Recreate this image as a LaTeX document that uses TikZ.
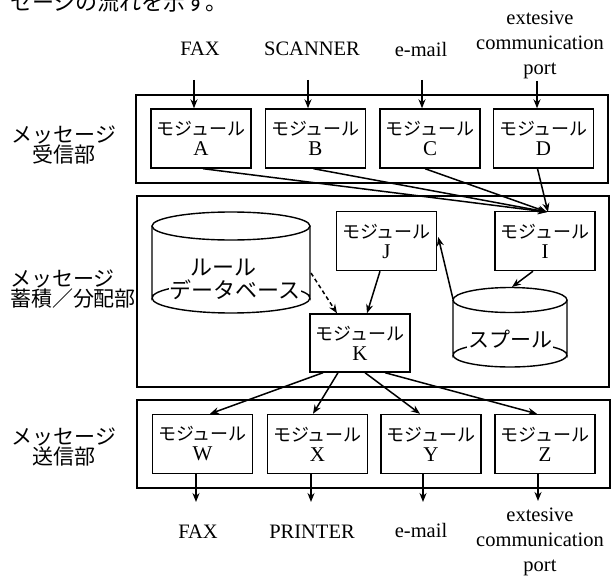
\documentclass[tikz,border=0pt]{standalone}
\usepackage{fontspec}
\setmainfont{Liberation Serif}
\newfontfamily\jp{Noto Sans CJK JP}
\usetikzlibrary{arrows.meta}
\begin{document}
\begin{tikzpicture}[x=1pt,y=-1pt,
  frame/.style={draw,line width=1.6pt},
  modbox/.style={draw,line width=1.4pt,minimum width=100pt,minimum height=59pt,inner sep=0pt,align=center,
    font=\fontsize{21}{20}\selectfont},
  lat/.style={font=\fontsize{20.5}{25}\selectfont,align=center,inner sep=0pt},
  side/.style={font=\jp\fontsize{21}{19}\selectfont,align=center,inner sep=0pt},
  arr/.style={line width=1.5pt,-{Stealth[length=9pt,width=7pt]}},
  darr/.style={arr,dash pattern=on 4pt off 3pt},
  cyl/.style={line width=1.4pt}
]
\useasboundingbox (0,0) rectangle (616,578);
\newcommand{\mj}{{\jp\fontsize{18}{20}\selectfont モジュール}}

% cut-off body text at top
\node[anchor=west,inner sep=0pt,font=\jp\fontsize{22}{22}\selectfont] (toptext) at (10,2) {セージの流れを示す。};

% section frames
\node[frame,minimum width=472pt,minimum height=88pt,inner sep=0pt] (recv) at (372,139) {};
\node[frame,minimum width=472pt,minimum height=191pt,inner sep=0pt] (store) at (373,291.5) {};
\node[frame,minimum width=473pt,minimum height=88pt,inner sep=0pt] (send) at (373.5,444) {};

% side labels
\node[side] (lrecv) at (64,145) {メッセージ\\受信部};
\node[side,align=left] (lstore) at (73,289) {メッセージ\\蓄積／分配部};
\node[side] (lsend) at (64,447) {メッセージ\\送信部};

% receiving modules
\node[modbox] (A) at (201,138.5) {\mj\\A};
\node[modbox] (B) at (315.5,138.5) {\mj\\B};
\node[modbox] (C) at (430,138.5) {\mj\\C};
\node[modbox] (D) at (543.5,138.5) {\mj\\D};

% input labels
\node[lat] (ifax) at (200,49) {FAX};
\node[lat] (iscan) at (312,49) {SCANNER};
\node[lat] (imail) at (421,49) {e-mail};
\node[lat] (iport) at (540,45) {extesive\\communication\\port};

\coordinate (inA) at (194,80);
\coordinate (inB) at (308,80);
\coordinate (inC) at (422,80);
\coordinate (inD) at (537,81);
\draw[arr] (inA) -- (inA |- A.north);
\draw[arr] (inB) -- (inB |- B.north);
\draw[arr] (inC) -- (inC |- C.north);
\draw[arr] (inD) -- (inD |- D.north);

% store modules
\node[modbox] (J) at (386.5,241) {\mj\\J};
\node[modbox] (I) at (545,241) {\mj\\I};
\node[modbox,minimum height=58pt] (K) at (360,343) {\mj\\K};

% rule database cylinder
\draw[cyl] (231,226) ellipse [x radius=79, y radius=14];
\draw[cyl] (152,226) -- (152,298) arc[start angle=180,end angle=360,x radius=79,y radius=15] -- (310,226);
\draw[cyl] (152,298) arc[start angle=180,end angle=0,x radius=79,y radius=15];
\node[inner sep=0pt] (ruledb) at (231,262) {};
\node[fill=white,inner sep=1pt,font=\jp\fontsize{22}{22}\selectfont] (rtxt2) at (235,290) {データベース};
\node[inner sep=0pt,font=\jp\fontsize{22}{22}\selectfont] (rtxt1) at (223,268) {ルール};

% spool cylinder
\draw[cyl] (510,300) ellipse [x radius=57, y radius=12.5];
\draw[cyl] (453,300) -- (453,355) arc[start angle=180,end angle=360,x radius=57,y radius=12] -- (567,300);
\draw[cyl] (453,355) arc[start angle=180,end angle=0,x radius=57,y radius=12];
\node[inner sep=0pt] (spool) at (510,330) {};
\node[fill=white,inner sep=1pt,font=\jp\fontsize{21}{21}\selectfont] (stxt) at (510,339) {スプール};

% receiving -> I
\coordinate (Ia) at (547,212);
\draw[arr] ([xshift=2pt]A.south) -- (Ia);
\draw[arr] ([xshift=-2pt]B.south) -- (Ia);
\draw[arr] ([xshift=-5pt]C.south) -- (Ia);
\draw[arr] ([xshift=-6pt]D.south) -- ([xshift=1pt]Ia);

% inside store
\coordinate (spTop) at (512,287);
\coordinate (spLeft) at (453,299);
\coordinate (dbRight) at (311,273);
\draw[arr] ([xshift=-12pt]I.south) -- (spTop);
\draw[arr] (spLeft) -- ([shift={(1pt,4pt)}]J.east);
\draw[arr] ([xshift=-6.5pt]J.south) -- ([xshift=7pt]K.north);
\draw[darr] (dbRight) -- ([xshift=-23pt]K.north);

% sending modules
\node[modbox] (W) at (202.5,444) {\mj\\W};
\node[modbox] (X) at (317.5,444) {\mj\\X};
\node[modbox] (Y) at (431,444) {\mj\\Y};
\node[modbox] (Z) at (545,444) {\mj\\Z};

\draw[arr] ([xshift=-37pt]K.south) -- ([xshift=7.5pt]W.north);
\draw[arr] ([xshift=-22pt]K.south) -- ([xshift=-4.5pt]X.north);
\draw[arr] ([xshift=5pt]K.south) -- ([xshift=-11pt]Y.north);
\draw[arr] ([xshift=25pt]K.south) -- ([xshift=-8pt]Z.north);

% outputs
\node[lat] (ofax) at (198,532) {FAX};
\node[lat] (oprn) at (312,532) {PRINTER};
\node[lat] (omail) at (421,530) {e-mail};
\node[lat] (oport) at (540,542) {extesive\\communication\\port};

\coordinate (outW) at (196,502);
\coordinate (outX) at (311,502);
\coordinate (outY) at (423,502);
\coordinate (outZ) at (538,501);
\draw[arr] (outW |- W.south) -- (outW);
\draw[arr] (outX |- X.south) -- (outX);
\draw[arr] (outY |- Y.south) -- (outY);
\draw[arr] (outZ |- Z.south) -- (outZ);
\end{tikzpicture}
\end{document}
